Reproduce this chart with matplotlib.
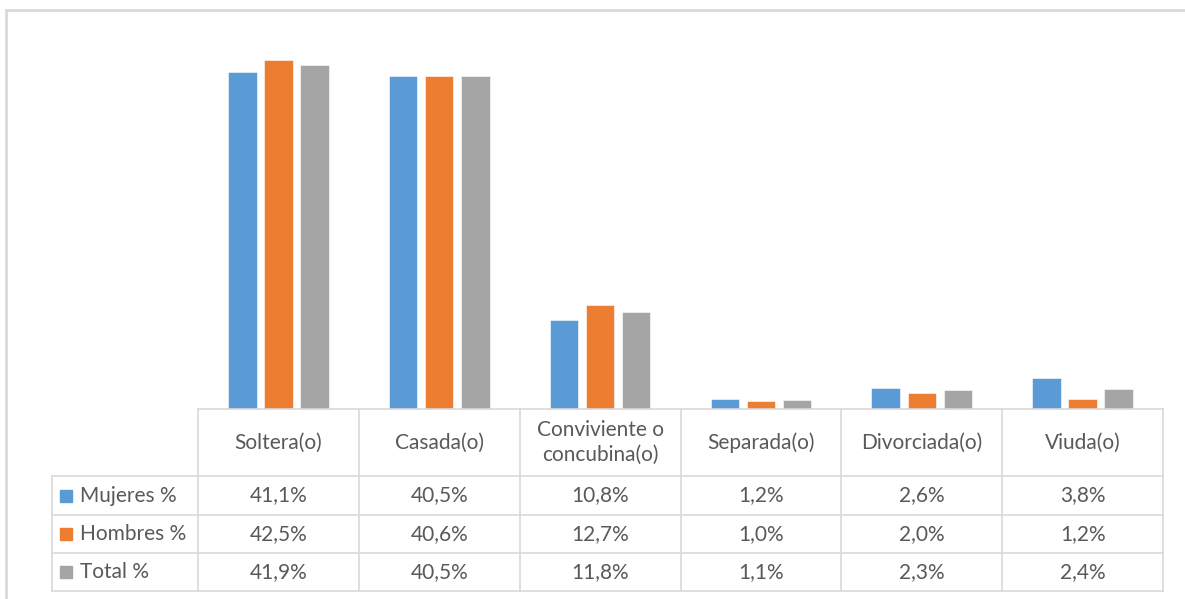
import numpy as np
import matplotlib
matplotlib.use("Agg")
import matplotlib.pyplot as plt
from matplotlib.patches import Rectangle

# data
categories = ["Soltera(o)", "Casada(o)", "Conviviente o\nconcubina(o)",
              "Separada(o)", "Divorciada(o)", "Viuda(o)"]
series_names = ["Mujeres %", "Hombres %", "Total %"]
mujeres = [41.1, 40.5, 10.8, 1.2, 2.6, 3.8]
hombres = [42.5, 40.6, 12.7, 1.0, 2.0, 1.2]
total = [41.9, 40.5, 11.8, 1.1, 2.3, 2.4]
colors = ["#5b9bd5", "#ed7d31", "#a5a5a5"]

plt.rcParams['font.family'] = ['Lato', 'DejaVu Sans']
TEXT = "#595959"
GRID = "#d9d9d9"

W, H = 1185, 599
fig = plt.figure(figsize=(W / 100, H / 100), dpi=100)

def px_axes(x0, y0, x1, y1):
  # axes from pixel box (top-left origin)
  return fig.add_axes([x0 / W, 1 - y1 / H, (x1 - x0) / W, (y1 - y0) / H])

# outer chart border (only left/top visible)
fig.add_artist(Rectangle((6 / W, -0.1), 1.2, 1 - 10 / H + 0.1, transform=fig.transFigure,
                         fill=False, edgecolor=GRID, linewidth=2))

# bars
ax = px_axes(198, 39.5, 1163, 409)
x = np.arange(len(categories))
bw = 0.177
step = 0.224
for i, vals in enumerate([mujeres, hombres, total]):
  ax.bar(x + (i - 1) * step, vals, width=bw, color=colors[i],
         edgecolor="white", linewidth=0.4)
ax.set_xlim(-0.5, len(categories) - 0.5)
ax.set_ylim(0, 45)
ax.axis("off")

# data table
tx0, ty0, tx1, ty1 = 52, 409, 1163, 591
tab = px_axes(tx0, ty0, tx1, ty1)
tw, th = tx1 - tx0, ty1 - ty0
tab.set_xlim(0, tw)
tab.set_ylim(th, 0)
tab.axis("off")

label_w = 146
col_w = (tw - label_w) / len(categories)
row_y = [0, 67, 106, 144, 182]

# lines
for k in range(len(categories) + 1):
  xv = label_w + k * col_w
  tab.plot([xv, xv], [0, th], color=GRID, lw=1.2, clip_on=False)
tab.plot([0, 0], [row_y[1], th], color=GRID, lw=1.2, clip_on=False)
tab.plot([label_w, tw], [0, 0], color=GRID, lw=1.2, clip_on=False)
for yv in row_y[1:]:
  tab.plot([0, tw], [yv, yv], color=GRID, lw=1.2, clip_on=False)

fs = 15
for k, cat in enumerate(categories):
  tab.text(label_w + (k + 0.5) * col_w, (row_y[0] + row_y[1]) / 2, cat,
           ha="center", va="center", fontsize=fs, color=TEXT, linespacing=1.3)

for r, (name, vals) in enumerate(zip(series_names, [mujeres, hombres, total])):
  yc = (row_y[r + 1] + row_y[r + 2]) / 2
  tab.add_patch(Rectangle((8, yc - 6), 12, 12, color=colors[r]))
  tab.text(28, yc, name, ha="left", va="center", fontsize=fs, color=TEXT)
  for k, v in enumerate(vals):
    tab.text(label_w + (k + 0.5) * col_w, yc, f"{v:.1f}%".replace(".", ","),
             ha="center", va="center", fontsize=fs, color=TEXT)

fig.savefig("out.png", dpi=100, facecolor="white")
